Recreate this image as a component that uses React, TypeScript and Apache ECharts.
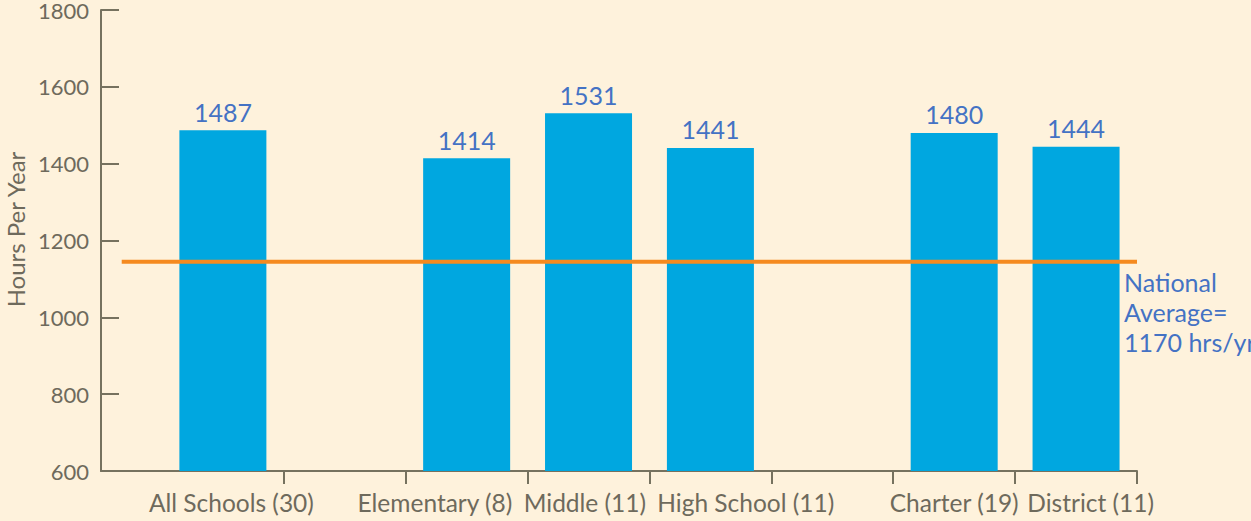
import React, { useEffect, useRef } from "react";
import * as echarts from "echarts";

const categories = ["All Schools (30)", "", "Elementary (8)", "Middle (11)", "High School (11)", "", "Charter (19)", "District (11)"];
const hoursPerYear: (number | null)[] = [1487, null, 1414, 1531, 1441, null, 1480, 1444];
const yTicks = [600, 800, 1000, 1200, 1400, 1600, 1800];
const nationalAverageDrawn = 1145;
const nationalAverageText = ["National", "Average=", "1170 hrs/yr"];

const FONT = "Lato, 'Open Sans', sans-serif";

export default function App() {
  const ref = useRef<HTMLDivElement>(null);
  useEffect(() => {
    const chart = echarts.init(ref.current!, null, { renderer: "svg" });
    const barData = hoursPerYear
      .map((v, i) => (v == null ? null : [i + 1, v]))
      .filter((d) => d !== null);
    const tickPositions = categories.map((_, i) => i + 1.5);
    const labelShift = [0.07, 0, -0.26, -0.03, 0.29, 0, 0.0, 0.12];
    const labelPositions = categories
      .map((c, i) => (c ? i + 1 + labelShift[i] : null))
      .filter((d) => d !== null);
    chart.setOption({
      animation: false,
      backgroundColor: "#FEF2DC",
      textStyle: { fontFamily: FONT },
      grid: { left: 101, right: 114, top: 10, bottom: 50, outerBoundsMode: "none", containLabel: false },
      xAxis: {
        type: "value",
        min: 0,
        max: categories.length + 0.5,
        splitLine: { show: false },
        axisLine: { show: true, lineStyle: { color: "#76725F", width: 2 } },
        axisTick: { show: true, customValues: tickPositions, length: 13, lineStyle: { color: "#76725F", width: 2 } },
        axisLabel: {
          customValues: labelPositions,
          color: "#6E6A5C",
          fontSize: 24.5,
          fontFamily: FONT,
          margin: 19,
          formatter: (v: number) => categories[Math.round(v) - 1] || "",
        },
      },
      yAxis: {
        type: "value",
        min: yTicks[0],
        max: yTicks[yTicks.length - 1],
        interval: 200,
        name: "Hours Per Year",
        nameLocation: "middle",
        nameGap: 73,
        nameTextStyle: { color: "#6E6A5C", fontSize: 24, fontFamily: FONT, padding: [0, 0, 0, 22] },
        splitLine: { show: false },
        axisLine: { show: true, lineStyle: { color: "#76725F", width: 2 } },
        axisTick: { show: true, inside: true, length: 18, lineStyle: { color: "#76725F", width: 2 } },
        axisLabel: { color: "#6E6A5C", fontSize: 22, fontFamily: FONT, margin: 12, formatter: (v: number) => String(v) },
      },
      series: [
        {
          type: "bar",
          data: barData,
          barWidth: 87,
          itemStyle: { color: "#00A7E0" },
          label: { show: true, position: "top", color: "#4472C4", fontSize: 25, fontFamily: FONT, distance: 6 },
          z: 2,
        },
        {
          type: "line",
          data: [
            [0.17, nationalAverageDrawn],
            [categories.length + 0.5, nationalAverageDrawn],
          ],
          symbol: "none",
          lineStyle: { color: "#F58A1F", width: 4 },
          z: 3,
        },
      ],
      graphic: [
        {
          type: "text",
          left: 1124,
          top: 267,
          style: {
            text: nationalAverageText.join("\n"),
            fill: "#4472C4",
            font: `25px ${FONT}`,
            lineHeight: 30,
          },
        },
      ],
    });
    return () => chart.dispose();
  }, []);
  return <div ref={ref} style={{ position: "fixed", left: 0, top: 0, width: 1251, height: 521 }} />;
}
